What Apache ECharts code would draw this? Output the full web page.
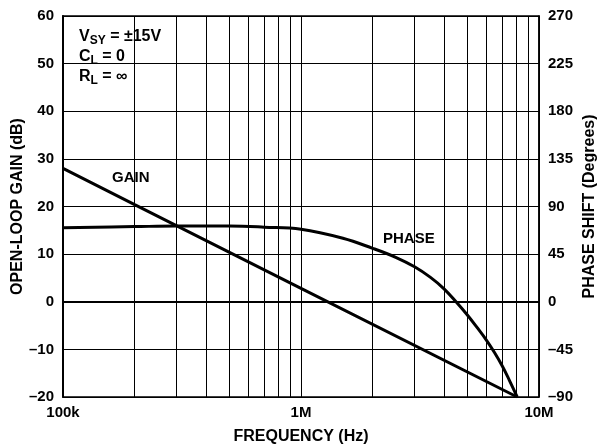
<!DOCTYPE html>
<html>
<head>
<meta charset="utf-8">
<script src="https://cdn.jsdelivr.net/npm/echarts@6/dist/echarts.min.js"></script>
<style>
  html, body { margin: 0; padding: 0; background: #fff; }
  #chart { width: 606px; height: 446px; }
</style>
</head>
<body>
<div id="chart"></div>
<script>
  // 数据 (读图估算)
  const gainFreq = [1e5, 2e5, 1e6, 8.1e6];
  const gainDb = [28, 20.4, 2.8, -20];

  const phaseFreq = [1e5, 2e5, 3e5, 5e5, 7e5, 1e6, 1.5e6, 2e6, 2.5e6, 3e6, 3.5e6,
    4e6, 4.5e6, 5e6, 5.5e6, 6e6, 6.5e6, 7e6, 7.5e6, 8.1e6];
  const phaseDeg = [70, 71, 71.5, 71.5, 70.5, 68.5, 60, 50.5, 42, 33, 23,
    12, -0.5, -12.5, -24.5, -36, -48, -60.5, -74, -90];

  // 对数坐标的次网格线
  const minorFreq = [2e5, 3e5, 4e5, 5e5, 6e5, 7e5, 8e5, 9e5,
    2e6, 3e6, 4e6, 5e6, 6e6, 7e6, 8e6, 9e6];
  const freqLabels = {100000: '100k', 1000000: '1M', 10000000: '10M'};

  const font = 'Liberation Sans, Arial, Helvetica, sans-serif';
  const dash = v => String(v).replace('-', '\u2013');

  let myChart = echarts.init(document.getElementById('chart'));

  myChart.setOption({
    animation: false,
    grid: {
      left: 63, right: 67, top: 16, bottom: 49,
      outerBoundsMode: 'none',
      show: true, borderColor: '#000', borderWidth: 1.5
    },
    xAxis: {
      type: 'log', logBase: 10, min: 1e5, max: 1e7,
      axisLine: {show: true, lineStyle: {color: '#000', width: 2}},
      axisTick: {show: false},
      splitLine: {show: true, lineStyle: {color: '#000', width: 1}},
      axisLabel: {
        color: '#000', fontFamily: font, fontWeight: 'bold', fontSize: 15, margin: 8,
        formatter: v => freqLabels[Math.round(v)] || ''
      },
      name: 'FREQUENCY (Hz)', nameLocation: 'middle', nameGap: 32, nameMoveOverlap: false,
      nameTextStyle: {color: '#000', fontFamily: font, fontWeight: 'bold', fontSize: 16}
    },
    yAxis: [{
      type: 'value', min: -20, max: 60, interval: 10, position: 'left',
      axisLine: {show: true, lineStyle: {color: '#000', width: 2}},
      axisTick: {show: false},
      splitLine: {show: true, lineStyle: {color: '#000', width: 1}},
      axisLabel: {color: '#000', fontFamily: font, fontWeight: 'bold', fontSize: 15, margin: 9, formatter: dash},
      name: 'OPEN-LOOP GAIN (dB)', nameLocation: 'middle', nameGap: 37, nameMoveOverlap: false,
      nameTextStyle: {color: '#000', fontFamily: font, fontWeight: 'bold', fontSize: 16}
    }, {
      type: 'value', min: -90, max: 270, interval: 45, position: 'right',
      axisLine: {show: true, lineStyle: {color: '#000', width: 1.5}},
      axisTick: {show: false},
      splitLine: {show: false},
      axisLabel: {color: '#000', fontFamily: font, fontWeight: 'bold', fontSize: 15, margin: 9, formatter: dash},
      name: 'PHASE SHIFT (Degrees)', nameLocation: 'middle', nameGap: 43, nameRotate: 90, nameMoveOverlap: false,
      nameTextStyle: {color: '#000', fontFamily: font, fontWeight: 'bold', fontSize: 16}
    }],
    series: [{
      name: 'minor',
      type: 'line',
      data: [],
      silent: true,
      markLine: {
        silent: true,
        symbol: ['none', 'none'],
        label: {show: false},
        lineStyle: {color: '#000', width: 1, type: 'solid'},
        data: minorFreq.map(f => ({xAxis: f}))
      }
    }, {
      name: 'GAIN',
      type: 'line',
      yAxisIndex: 0,
      data: gainFreq.map((f, i) => [f, gainDb[i]]),
      showSymbol: false,
      lineStyle: {color: '#000', width: 3}
    }, {
      name: 'PHASE',
      type: 'line',
      yAxisIndex: 1,
      data: phaseFreq.map((f, i) => [f, phaseDeg[i]]),
      showSymbol: false,
      smooth: 0.4,
      lineStyle: {color: '#000', width: 3}
    }],
    graphic: [{
      type: 'text', left: 79, top: 29,
      style: {
        text: '{m|V}{s|SY}{m| = \u00b115V}\n{m|C}{s|L}{m| = 0}\n{m|R}{s|L}{m| = \u221e}',
        fill: '#000',
        rich: {
          m: {fontFamily: font, fontWeight: 'bold', fontSize: 16, lineHeight: 20, fill: '#000'},
          s: {fontFamily: font, fontWeight: 'bold', fontSize: 12, lineHeight: 7, verticalAlign: 'bottom', fill: '#000'}
        }
      }
    }, {
      type: 'text', left: 112, top: 170,
      style: {text: 'GAIN', fill: '#000', font: 'bold 15px ' + font}
    }, {
      type: 'text', left: 383, top: 231,
      style: {text: 'PHASE', fill: '#000', font: 'bold 15px ' + font}
    }]
  });
</script>
</body>
</html>
